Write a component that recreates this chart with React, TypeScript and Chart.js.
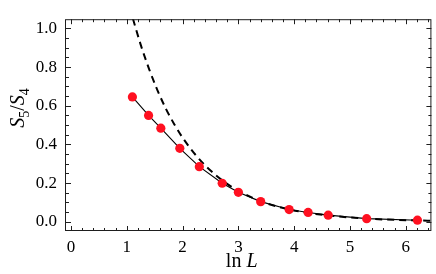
import React, { useEffect, useRef } from "react";
import { Chart, registerables } from "chart.js";

Chart.register(...registerables);

// Data
const lnL = [1.10, 1.39, 1.61, 1.95, 2.30, 2.71, 3.00, 3.40, 3.91, 4.25, 4.61, 5.30, 6.21];
const ratioS5S4 = [0.646, 0.550, 0.484, 0.380, 0.285, 0.199, 0.152, 0.104, 0.063, 0.048, 0.034, 0.016, 0.008];

// Dashed reference curve
const curveX = [1.11, 1.25, 1.40, 1.55, 1.70, 1.85, 2.00, 2.25, 2.50, 2.75, 3.00, 3.40, 3.90, 4.25, 4.60, 5.30, 6.20, 6.46];
const curveY = [1.05, 0.915, 0.79, 0.68, 0.585, 0.505, 0.435, 0.34, 0.265, 0.206, 0.16, 0.106, 0.064, 0.046, 0.033, 0.016, 0.0065, 0.005];

// Axes
const xMajorTicks = [0, 1, 2, 3, 4, 5, 6];
const yMajorTicks = [0, 0.2, 0.4, 0.6, 0.8, 1.0];
const X_MINOR_STEP = 0.2;
const Y_MINOR_STEP = 0.05;
const X_MIN = -0.09;
const X_MAX = 6.46;
const Y_MIN = -0.048;
const Y_MAX = 1.048;

const xTitleMain = "ln ";
const xTitleVar = "L";
const yTitleParts = [
  { t: "S", sub: false, italic: true },
  { t: "5", sub: true, italic: false },
  { t: "/", sub: false, italic: false },
  { t: "S", sub: false, italic: true },
  { t: "4", sub: true, italic: false },
];

const SERIF = "'Liberation Serif', 'Times New Roman', Times, serif";
const TICK_FONT_SIZE = 17;
const TITLE_FONT_SIZE = 20;
const SUB_FONT_SIZE = 14;

Chart.defaults.font.family = SERIF;

const framePlugin = {
  id: "frameTicks",
  afterDatasetsDraw(chart: any) {
    const { ctx, chartArea } = chart;
    const { left, right, top, bottom } = chartArea;
    const xs = chart.scales.x;
    const ys = chart.scales.y;
    ctx.save();
    ctx.strokeStyle = "#1e1e1e";
    ctx.lineWidth = 1;
    ctx.strokeRect(left - 0.5, top + 0.5, right - left, bottom - top - 1);
    ctx.beginPath();
    const majorLen = 5;
    const minorLen = 3;
    const xiStart = Math.ceil(X_MIN / X_MINOR_STEP - 1e-9);
    const xiEnd = Math.floor(X_MAX / X_MINOR_STEP + 1e-9);
    for (let i = xiStart; i <= xiEnd; i++) {
      const v = i * X_MINOR_STEP;
      const isMajor = xMajorTicks.some((m) => Math.abs(m - v) < 1e-6);
      const len = isMajor ? majorLen : minorLen;
      const px = Math.round(xs.getPixelForValue(v)) + 0.5;
      if (px < left || px > right) continue;
      ctx.moveTo(px, bottom);
      ctx.lineTo(px, bottom - len);
      ctx.moveTo(px, top);
      ctx.lineTo(px, top + len);
    }
    const yiStart = Math.ceil(Y_MIN / Y_MINOR_STEP - 1e-9);
    const yiEnd = Math.floor(Y_MAX / Y_MINOR_STEP + 1e-9);
    for (let i = yiStart; i <= yiEnd; i++) {
      const v = i * Y_MINOR_STEP;
      const isMajor = yMajorTicks.some((m) => Math.abs(m - v) < 1e-6);
      const len = isMajor ? majorLen : minorLen;
      const py = Math.round(ys.getPixelForValue(v)) + 0.5;
      if (py < top || py > bottom) continue;
      ctx.moveTo(left, py);
      ctx.lineTo(left + len, py);
      ctx.moveTo(right, py);
      ctx.lineTo(right - len, py);
    }
    ctx.stroke();
    ctx.restore();
  },
};

const titlePlugin = {
  id: "axisTitles",
  afterDraw(chart: any) {
    const { ctx, chartArea } = chart;
    ctx.save();
    ctx.fillStyle = "#000";
    ctx.textBaseline = "alphabetic";
    ctx.textAlign = "left";
    // x title
    const fUp = `${TITLE_FONT_SIZE}px ${SERIF}`;
    const fIt = `italic ${TITLE_FONT_SIZE}px ${SERIF}`;
    ctx.font = fUp;
    const w1 = ctx.measureText(xTitleMain).width;
    ctx.font = fIt;
    const w2 = ctx.measureText(xTitleVar).width;
    const cx = (chartArea.left + chartArea.right) / 2 - 7;
    const startX = cx - (w1 + w2) / 2;
    const baseY = 267;
    ctx.font = fUp;
    ctx.fillText(xTitleMain, startX, baseY);
    ctx.font = fIt;
    ctx.fillText(xTitleVar, startX + w1, baseY);

    // y title, rotated
    const fontFor = (p: any) =>
      p.sub ? `${SUB_FONT_SIZE}px ${SERIF}` : `${p.italic ? "italic " : ""}${TITLE_FONT_SIZE}px ${SERIF}`;
    let total = 0;
    const widths: number[] = [];
    for (const p of yTitleParts) {
      ctx.font = fontFor(p);
      const w = ctx.measureText(p.t).width;
      widths.push(w);
      total += w;
    }
    ctx.translate(24, 108);
    ctx.rotate(-Math.PI / 2);
    let x = -total / 2;
    yTitleParts.forEach((p, i) => {
      ctx.font = fontFor(p);
      ctx.fillText(p.t, x, p.sub ? 5 : 0);
      x += widths[i];
    });
    ctx.restore();
  },
};

export default function App() {
  const ref = useRef<HTMLCanvasElement>(null);
  useEffect(() => {
    const canvas = ref.current;
    if (!canvas) return;
    const chart = new Chart(canvas, {
      type: "line",
      data: {
        datasets: [
          {
            label: "S5/S4",
            data: lnL.map((v, i) => ({ x: v, y: ratioS5S4[i] })),
            borderColor: "#000",
            borderWidth: 1.1,
            pointRadius: 4.6,
            pointBackgroundColor: "#ff1020",
            pointBorderColor: "#ff1020",
            pointBorderWidth: 0,
            tension: 0,
            fill: false,
          },
          {
            label: "curve",
            data: curveX.map((v, i) => ({ x: v, y: curveY[i] })),
            borderColor: "#000",
            borderWidth: 2,
            borderDash: [7, 5],
            pointRadius: 0,
            cubicInterpolationMode: "monotone",
            fill: false,
          },
        ],
      },
      options: {
        animation: false,
        responsive: true,
        maintainAspectRatio: false,
        events: [],
        layout: { padding: { top: 3, right: 4, left: 0, bottom: 0 } },
        plugins: {
          legend: { display: false },
          tooltip: { enabled: false },
        },
        scales: {
          x: {
            type: "linear",
            min: X_MIN,
            max: X_MAX,
            grid: { display: false, drawTicks: false },
            border: { display: false },
            afterBuildTicks: (s: any) => {
              s.ticks = xMajorTicks.map((v) => ({ value: v }));
            },
            afterFit: (s: any) => {
              s.height = 43;
            },
            ticks: {
              autoSkip: false,
              maxRotation: 0,
              color: "#000",
              padding: 6,
              font: { family: SERIF, size: TICK_FONT_SIZE },
              callback: (v: any) => String(v),
            },
          },
          y: {
            type: "linear",
            min: Y_MIN,
            max: Y_MAX,
            grid: { display: false, drawTicks: false },
            border: { display: false },
            afterBuildTicks: (s: any) => {
              s.ticks = yMajorTicks.map((v) => ({ value: v }));
            },
            afterFit: (s: any) => {
              s.width = 66;
            },
            ticks: {
              autoSkip: false,
              color: "#000",
              padding: 9,
              font: { family: SERIF, size: TICK_FONT_SIZE },
              callback: (v: any) => Number(v).toFixed(1),
            },
          },
        },
      },
      plugins: [framePlugin, titlePlugin],
    } as any);
    return () => chart.destroy();
  }, []);
  return (
    <div style={{ position: "fixed", left: 0, top: 0, width: 436, height: 274 }}>
      <canvas ref={ref} />
    </div>
  );
}
